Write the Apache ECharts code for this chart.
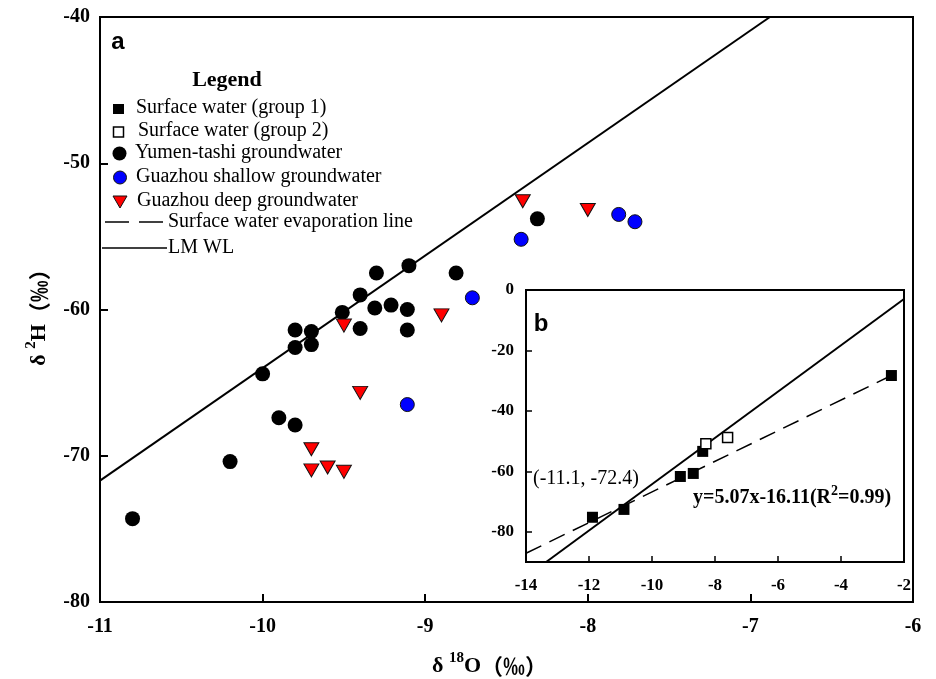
<!DOCTYPE html>
<html>
<head>
<meta charset="utf-8">
<script src="https://cdn.jsdelivr.net/npm/echarts@6/dist/echarts.min.js"></script>
<style>
  html, body { margin: 0; padding: 0; background: #fff; }
  #chart { width: 936px; height: 679px; }
</style>
</head>
<body>
<div id="chart"></div>
<script>
// main panel (a): δ18O vs δ2H
const yumenX = [-9.3, -9.1, -8.81, -9.4, -9.51, -9.31, -9.21, -9.11, -9.4, -9.11, -9.8, -9.7, -9.8, -9.7, -10.0, -9.9, -9.8, -10.2, -10.8, -8.31];
const yumenY = [-57.5, -57.0, -57.5, -59.0, -60.2, -59.9, -59.7, -60.0, -61.3, -61.4, -61.4, -61.5, -62.6, -62.4, -64.4, -67.4, -67.9, -70.4, -74.3, -53.8];
const shallowX = [-8.71, -9.11, -8.41, -7.81, -7.71];
const shallowY = [-59.2, -66.5, -55.2, -53.5, -54.0];
const deepX = [-9.5, -8.9, -9.4, -9.7, -9.7, -9.6, -9.5, -8.4, -8.0];
const deepY = [-61.1, -60.4, -65.7, -69.55, -71.0, -70.8, -71.1, -52.6, -53.2];
const lmwlX = [-11, -6.88];
const lmwlY = [-71.7, -40];

// inset panel (b): surface water
const group1X = [-11.89, -10.89, -9.1, -8.69, -8.39, -2.4];
const group1Y = [-75.2, -72.6, -61.7, -60.7, -53.4, -28.3];
const group2X = [-8.29, -7.6];
const group2Y = [-50.9, -48.8];
const insetLmwlX = [-13.36, -2];
const insetLmwlY = [-90, -3];
const evapX = [-14, -2.4];
const evapY = [-87.1, -28.3];

const insetYTicks = [0, -20, -40, -60, -80];

const zip = (xs, ys) => xs.map((x, i) => [x, ys[i]]);

const serif = 'Liberation Serif';
const tickFont = { fontFamily: serif, fontWeight: 'bold', color: '#000' };

// rich styles for the axis titles (superscripts)
const titleRich = {
  m: { font: 'bold 22px "Liberation Serif"', fill: '#000', verticalAlign: 'bottom', lineHeight: 26 },
  s: { font: 'bold 15px "Liberation Serif"', fill: '#000', verticalAlign: 'top', lineHeight: 26 },
  c: { font: 'bold 22px "Noto Sans CJK SC"', fill: '#000', verticalAlign: 'bottom', lineHeight: 26 }
};

const chart = echarts.init(document.getElementById('chart'));

chart.setOption({
  animation: false,
  backgroundColor: '#fff',
  grid: [
    { left: 100, top: 17, width: 813, height: 585, show: true, borderColor: '#000', borderWidth: 2, backgroundColor: 'transparent' },
    { left: 526, top: 290, width: 378, height: 272, show: true, borderColor: '#000', borderWidth: 2, backgroundColor: '#fff', z: 3 }
  ],
  xAxis: [
    {
      gridIndex: 0, type: 'value', min: -11, max: -6, interval: 1,
      axisLine: { onZero: false, lineStyle: { color: '#000', width: 2 } },
      axisTick: { inside: true, length: 8, lineStyle: { color: '#000', width: 2 } },
      axisLabel: { ...tickFont, fontSize: 20, margin: 15 },
      splitLine: { show: false }
    },
    {
      gridIndex: 1, type: 'value', min: -14, max: -2, interval: 2, z: 4,
      axisLine: { onZero: false, lineStyle: { color: '#000', width: 2 } },
      axisTick: { inside: true, length: 6, lineStyle: { color: '#000', width: 1.5 } },
      axisLabel: { ...tickFont, fontSize: 17, margin: 15 },
      splitLine: { show: false }
    }
  ],
  yAxis: [
    {
      gridIndex: 0, type: 'value', min: -80, max: -40, interval: 10,
      axisLine: { onZero: false, lineStyle: { color: '#000', width: 2 } },
      axisTick: { inside: true, length: 8, lineStyle: { color: '#000', width: 2 } },
      axisLabel: { ...tickFont, fontSize: 20, margin: 10 },
      splitLine: { show: false }
    },
    {
      gridIndex: 1, type: 'value', min: -90, max: 0, z: 4,
      axisLine: { onZero: false, lineStyle: { color: '#000', width: 2 } },
      axisTick: { inside: true, length: 6, customValues: insetYTicks, lineStyle: { color: '#000', width: 1.5 } },
      axisLabel: { ...tickFont, fontSize: 17, margin: 12, customValues: insetYTicks },
      splitLine: { show: false }
    }
  ],
  series: [
    {
      name: 'LMWL', type: 'line', xAxisIndex: 0, yAxisIndex: 0,
      data: zip(lmwlX, lmwlY), symbol: 'none',
      lineStyle: { color: '#000', width: 2 }
    },
    {
      name: 'Yumen-tashi groundwater', type: 'scatter', xAxisIndex: 0, yAxisIndex: 0,
      data: zip(yumenX, yumenY), symbol: 'circle', symbolSize: 15,
      itemStyle: { color: '#000', opacity: 1 }
    },
    {
      name: 'Guazhou shallow groundwater', type: 'scatter', xAxisIndex: 0, yAxisIndex: 0,
      data: zip(shallowX, shallowY), symbol: 'circle', symbolSize: 14,
      itemStyle: { color: '#0000ff', borderColor: '#111', borderWidth: 1, opacity: 1 }
    },
    {
      name: 'Guazhou deep groundwater', type: 'scatter', xAxisIndex: 0, yAxisIndex: 0,
      data: zip(deepX, deepY), symbol: 'triangle', symbolRotate: 180, symbolSize: [15, 13],
      itemStyle: { color: '#ff0000', borderColor: '#111', borderWidth: 1, opacity: 1 }
    },
    {
      name: 'LMWL inset', type: 'line', xAxisIndex: 1, yAxisIndex: 1, z: 5,
      data: zip(insetLmwlX, insetLmwlY), symbol: 'none',
      lineStyle: { color: '#000', width: 2 }
    },
    {
      name: 'Surface water evaporation line', type: 'line', xAxisIndex: 1, yAxisIndex: 1, z: 5,
      data: zip(evapX, evapY), symbol: 'none',
      lineStyle: { color: '#000', width: 1.5, type: [17, 9] }
    },
    {
      name: 'Surface water (group 1)', type: 'scatter', xAxisIndex: 1, yAxisIndex: 1, z: 6,
      data: zip(group1X, group1Y), symbol: 'rect', symbolSize: 11,
      itemStyle: { color: '#000', opacity: 1 }
    },
    {
      name: 'Surface water (group 2)', type: 'scatter', xAxisIndex: 1, yAxisIndex: 1, z: 6,
      data: zip(group2X, group2Y), symbol: 'rect', symbolSize: 10,
      itemStyle: { color: '#fff', borderColor: '#000', borderWidth: 1.5, opacity: 1 }
    }
  ],
  graphic: [
    // panel letters
    { type: 'text', x: 118, y: 42, style: { text: 'a', font: 'bold 24px "Liberation Sans"', fill: '#000', textAlign: 'center', textVerticalAlign: 'middle' } },
    { type: 'text', x: 541, y: 324, z: 10, style: { text: 'b', font: 'bold 24px "Liberation Sans"', fill: '#000', textAlign: 'center', textVerticalAlign: 'middle' } },

    // legend
    { type: 'text', x: 227, y: 80, style: { text: 'Legend', font: 'bold 22px "Liberation Serif"', fill: '#000', textAlign: 'center', textVerticalAlign: 'middle' } },
    { type: 'rect', shape: { x: 113, y: 104, width: 11, height: 10 }, style: { fill: '#000' } },
    { type: 'rect', shape: { x: 113.5, y: 127, width: 10, height: 10 }, style: { fill: '#fff', stroke: '#000', lineWidth: 1.5 } },
    { type: 'circle', shape: { cx: 119.5, cy: 153.5, r: 7 }, style: { fill: '#000' } },
    { type: 'circle', shape: { cx: 120, cy: 177.5, r: 6.5 }, style: { fill: '#0000ff', stroke: '#111', lineWidth: 1 } },
    { type: 'polygon', shape: { points: [[113, 196], [127, 196], [120, 208]] }, style: { fill: '#ff0000', stroke: '#111', lineWidth: 1 } },
    { type: 'line', shape: { x1: 105, y1: 222, x2: 129, y2: 222 }, style: { stroke: '#000', lineWidth: 1.5 } },
    { type: 'line', shape: { x1: 139, y1: 222, x2: 163, y2: 222 }, style: { stroke: '#000', lineWidth: 1.5 } },
    { type: 'line', shape: { x1: 102, y1: 248, x2: 167, y2: 248 }, style: { stroke: '#000', lineWidth: 1.5 } },
    { type: 'text', x: 136, y: 108, style: { text: 'Surface water (group 1)', font: '20px "Liberation Serif"', fill: '#000', textVerticalAlign: 'middle' } },
    { type: 'text', x: 138, y: 131, style: { text: 'Surface water (group 2)', font: '20px "Liberation Serif"', fill: '#000', textVerticalAlign: 'middle' } },
    { type: 'text', x: 135, y: 153, style: { text: 'Yumen-tashi groundwater', font: '20px "Liberation Serif"', fill: '#000', textVerticalAlign: 'middle' } },
    { type: 'text', x: 136, y: 177, style: { text: 'Guazhou shallow groundwater', font: '20px "Liberation Serif"', fill: '#000', textVerticalAlign: 'middle' } },
    { type: 'text', x: 137, y: 201, style: { text: 'Guazhou deep groundwater', font: '20px "Liberation Serif"', fill: '#000', textVerticalAlign: 'middle' } },
    { type: 'text', x: 168, y: 222, style: { text: 'Surface water evaporation line', font: '20px "Liberation Serif"', fill: '#000', textVerticalAlign: 'middle' } },
    { type: 'text', x: 168, y: 248, style: { text: 'LM WL', font: '20px "Liberation Serif"', fill: '#000', textVerticalAlign: 'middle' } },

    // inset annotations
    { type: 'text', x: 533, y: 479, z: 10, style: { text: '(-11.1, -72.4)', font: '20px "Liberation Serif"', fill: '#000', textVerticalAlign: 'middle' } },
    {
      type: 'text', x: 693, y: 496, z: 10,
      style: {
        text: '{m|y=5.07x-16.11(R}{s|2}{m|=0.99)}',
        fill: '#000', textVerticalAlign: 'middle',
        rich: {
          m: { font: 'bold 20px "Liberation Serif"', fill: '#000', verticalAlign: 'bottom', lineHeight: 24 },
          s: { font: 'bold 14px "Liberation Serif"', fill: '#000', verticalAlign: 'top', lineHeight: 24 }
        }
      }
    },

    // axis titles
    {
      type: 'text', x: 432, y: 664,
      style: { text: '{m|δ }{s|18}{m|O}{c|（‰）}', fill: '#000', textVerticalAlign: 'middle', rich: titleRich }
    },
    {
      type: 'text', x: 37, y: 312, rotation: Math.PI / 2,
      style: { text: '{m|δ }{s|2}{m|H}{c|（‰）}', fill: '#000', textAlign: 'center', textVerticalAlign: 'middle', rich: titleRich }
    }
  ]
});
</script>
</body>
</html>
